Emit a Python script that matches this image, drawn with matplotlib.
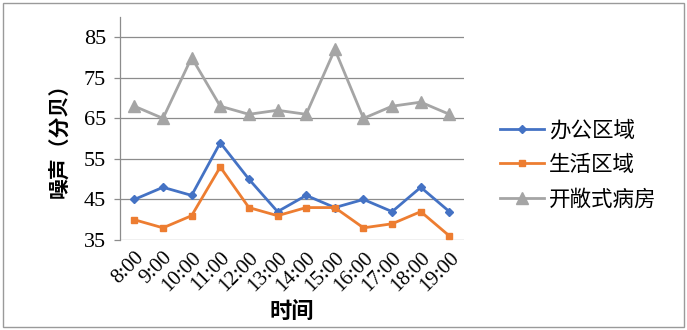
import matplotlib
matplotlib.use('Agg')
import matplotlib.pyplot as plt
from matplotlib.patches import Rectangle

plt.rcParams['font.family'] = ['Liberation Serif', 'Noto Sans CJK SC']

hours = ['8:00', '9:00', '10:00', '11:00', '12:00', '13:00',
         '14:00', '15:00', '16:00', '17:00', '18:00', '19:00']
office = [45, 48, 46, 59, 50, 42, 46, 43, 45, 42, 48, 42]
living = [40, 38, 41, 53, 43, 41, 43, 43, 38, 39, 42, 36]
ward = [68, 65, 80, 68, 66, 67, 66, 82, 65, 68, 69, 66]
names = ['办公区域', '生活区域', '开敞式病房']
yticks = [35, 45, 55, 65, 75, 85]

fig = plt.figure(figsize=(6.87, 3.30), dpi=100)
ax = fig.add_axes([0.1747, 0.2727, 0.5003, 0.6758])

x = range(len(hours))
ax.plot(x, office, color='#4472C4', lw=2, marker='D', ms=4, label=names[0])
ax.plot(x, living, color='#ED7D31', lw=2, marker='s', ms=4, label=names[1])
ax.plot(x, ward, color='#A5A5A5', lw=2, marker='^', ms=8, label=names[2])

ax.set_xlim(-0.5, len(hours) - 0.5)
ax.set_ylim(35, 90)
ax.set_yticks(yticks)
ax.set_yticklabels([str(v) for v in yticks], fontsize=16)
ax.set_xticks(list(x))
ax.set_xticklabels(hours, rotation=45, ha='right', va='top', fontsize=15,
                   rotation_mode='anchor')
ax.tick_params(axis='x', length=0, pad=6)
ax.tick_params(axis='y', length=4, width=0.9, color='#8C8C8C', pad=6)
ax.yaxis.grid(True, color='#8C8C8C', lw=0.9)
ax.set_axisbelow(True)
for s in ['top', 'right', 'bottom']:
    ax.spines[s].set_visible(False)
ax.spines['left'].set_color('#8C8C8C')
ax.spines['left'].set_linewidth(0.9)

ax.set_ylabel('噪声（分贝）', family=['Noto Sans CJK SC'], fontweight='bold',
              fontsize=15)
ax.yaxis.set_label_coords(-0.145, 0.47)
ax.set_xlabel('时间', family=['Noto Sans CJK SC'], fontweight='bold',
              fontsize=16)
ax.xaxis.set_label_coords(0.5, -0.27)

fig.legend(loc='center left', bbox_to_anchor=(0.699, 0.5), frameon=False,
           prop={'family': 'Noto Sans CJK SC', 'size': 15.5},
           handlelength=2.05, handletextpad=0.25, labelspacing=0.6)

fig.patches.append(Rectangle((0.004, 0.008), 0.992, 0.984, transform=fig.transFigure,
                             fill=False, edgecolor='#9A9A9A', lw=1))

fig.savefig('out.png', dpi=100)
